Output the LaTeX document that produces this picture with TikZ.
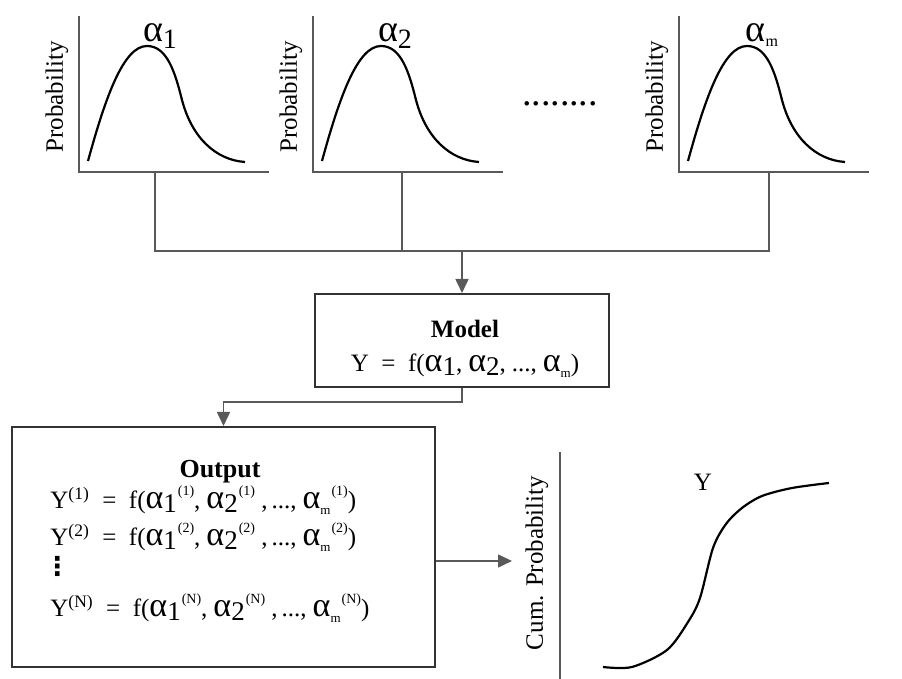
\documentclass[tikz,border=0pt]{standalone}
\usepackage{fontspec}
\setmainfont{Liberation Serif}
\newfontfamily\symfont{DejaVu Sans}
\usepackage{tikz}
\usetikzlibrary{arrows.meta,positioning,calc}

\newcommand{\al}{{\fontsize{17}{15}\selectfont α}}
\newcommand{\lo}[1]{\raisebox{-0.35ex}{\fontsize{13.5}{15}\selectfont #1}}
\newcommand{\hi}[1]{\kern0.5pt\raisebox{1.1ex}{\fontsize{7}{7}\selectfont #1}}
\newcommand{\tm}{\raisebox{-0.5ex}{\fontsize{6.5}{6}\selectfont m}}
\newcommand{\eq}{\ \ =\ \ }
\newcommand{\cm}{,\kern3pt}

\tikzset{
  wire/.style={line width=0.8pt, draw=black!65},
  arr/.style={wire, -{Triangle[length=7pt,width=6.5pt]}},
  curve/.style={line width=1.1pt, black},
  box/.style={draw=black!80, line width=1pt, inner sep=0pt},
  txt/.style={font=\fontsize{12.5}{15}\selectfont, inner sep=1pt},
}

\begin{document}
\begin{tikzpicture}[x=0.5pt, y=-0.5pt]
		\useasboundingbox (0,0) rectangle (902,679);

		% input distributions
		\foreach \dx/\nm in {0/a, 234/b, 600/c} {
			\draw[wire] (79+\dx,16) -- (79+\dx,172) -- (269+\dx,172);
			\draw[curve] (88+\dx,161) .. controls (106+\dx,95) and (124+\dx,46) .. (147+\dx,46)
				.. controls (167+\dx,46) and (175+\dx,72) .. (182+\dx,100)
				.. controls (192+\dx,138) and (216+\dx,160) .. (245+\dx,162);
			\node[txt, rotate=90] (prob\nm) at (57+\dx,97) {Probability};
		}
		\node[inner sep=0pt] (al1) at (160,36) {\fontsize{19}{19}\selectfont α\lo{\fontsize{14}{14}\selectfont 1}};
		\node[inner sep=0pt] (al2) at (395,36) {\fontsize{19}{19}\selectfont α\lo{\fontsize{14}{14}\selectfont 2}};
		\node[inner sep=0pt] (alm) at (762,35) {\fontsize{19}{19}\selectfont α\raisebox{-0.3ex}{\fontsize{8}{8}\selectfont m}};
		\node[inner sep=0pt] (dots) at (560,104) {\fontsize{19}{19}\selectfont ........};

		% joining lines
		\coordinate (j1) at (155,172);
		\coordinate (j2) at (402,172);
		\coordinate (j3) at (769,172);
		\coordinate (bus) at (462,251);
		\draw[wire] (j1) -- (j1 |- bus) -- (j3 |- bus) -- (j3);
		\draw[wire] (j2) -- (j2 |- bus);

		% model
		\node[box, minimum width=147pt, minimum height=46.5pt] (model) at (462,340.5) {};
		\node[txt, align=center] (modeltxt) at (465,349) {\textbf{Model}\\[2pt]
			Y\eq f(\al\lo{1}\cm\al\lo{2}\cm...\cm\al\tm)};
		\draw[arr] (bus) -- (model.north);

		% output
		\node[box, minimum width=211.5pt, minimum height=120pt] (out) at (223.5,547) {};
		\node[txt, font=\fontsize{13}{15}\selectfont\bfseries] (outtitle) at (220,472) {Output};
		\node[txt, anchor=west] (y1) at (48,500) {Y\textsuperscript{(1)}\eq f(\al\lo{1}\hi{(1)}\cm\al\lo{2}\hi{(1)} ,\kern2pt ...\cm\al\tm\hi{(1)})};
		\node[txt, anchor=west] (y2) at (48,537) {Y\textsuperscript{(2)}\eq f(\al\lo{1}\hi{(2)}\cm\al\lo{2}\hi{(2)} ,\kern2pt ...\cm\al\tm\hi{(2)})};
		\node[anchor=west, inner sep=0pt] (yd) at (44,566) {\fontsize{13}{13}\selectfont\symfont\bfseries ⋮};
		\node[txt, anchor=west] (yn) at (48,608) {Y\textsuperscript{(N)}\eq f(\al\lo{1}\hi{(N)}\cm\al\lo{2}\hi{(N)} ,\kern2pt ...\cm\al\tm\hi{(N)})};
		\coordinate (bend) at (462,402);
		\draw[arr] (model.south) -- (bend) -| (out.north);

		% cumulative result
		\coordinate (tip) at (512,561);
		\draw[arr] (out.east |- tip) -- (tip);
		\draw[wire] (560,452) -- (560,679);
		\node[txt, rotate=90] (cumlab) at (537,563) {Cum. Probability};
		\node[txt] (ylab) at (703,482) {Y};
		\draw[curve] plot[smooth] coordinates {(603,667) (632,667) (667,650) (688,622) (700,598) (713,548) (726,524) (742,508) (762,496) (792,488) (829,483)};
	\end{tikzpicture}
\end{document}
